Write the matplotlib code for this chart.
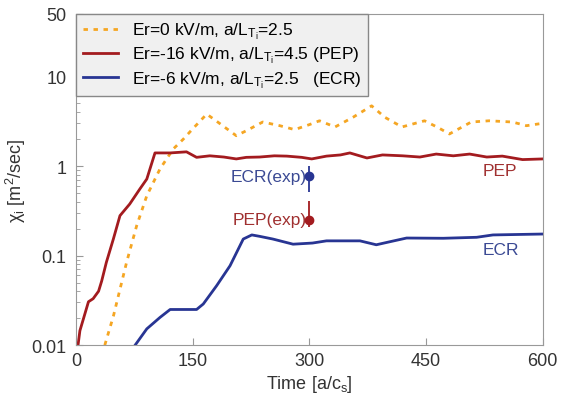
import matplotlib.pyplot as plt
import numpy as np

plt.rcParams['font.family'] = ['Liberation Sans', 'DejaVu Sans']
plt.rcParams['mathtext.fontset'] = 'custom'
plt.rcParams['mathtext.rm'] = 'Liberation Sans'
plt.rcParams['mathtext.it'] = 'Liberation Sans'

# Er=0 kV/m (dashed orange)
t_er0 = [37, 48, 56.5, 65, 78, 91, 108, 125, 138, 150, 168, 180, 189, 206, 219, 240, 262,
         281, 300, 313, 333, 356, 380, 397, 419, 448, 465, 480, 508, 531, 561, 579, 600]
chi_er0 = [0.01, 0.021, 0.042, 0.084, 0.216, 0.466, 0.93, 1.55, 2.0, 2.6, 3.8, 3.2, 2.8, 2.18,
           2.48, 3.1, 2.82, 2.55, 2.9, 3.2, 2.73, 3.5, 4.7, 3.5, 2.73, 3.2, 2.7, 2.28, 3.1, 3.2,
           3.1, 2.82, 3.0]

# PEP (red)
t_pep = [2.6, 5, 9.4, 16, 22, 29, 33, 39, 48, 56.5, 69, 82, 91, 101.5, 121, 142, 155, 172,
         190, 206, 219, 236, 255, 271, 290, 303, 322, 340, 352, 374, 394, 420, 442, 463, 485,
         506, 528, 548, 574, 600]
chi_pep = [0.01, 0.0145, 0.0195, 0.0305, 0.033, 0.04, 0.052, 0.084, 0.153, 0.279, 0.376,
           0.553, 0.716, 1.40, 1.40, 1.44, 1.25, 1.30, 1.26, 1.20, 1.25, 1.26, 1.30, 1.29, 1.25,
           1.2, 1.29, 1.33, 1.4, 1.23, 1.33, 1.30, 1.26, 1.36, 1.30, 1.36, 1.26, 1.29, 1.18, 1.2]

# ECR (blue)
t_ecr = [76, 91, 108, 121, 155, 163.6, 180.7, 198, 215, 226, 236, 253, 279, 304, 322, 365,
         386, 407, 425, 472, 515, 536, 600]
chi_ecr = [0.01, 0.0152, 0.0204, 0.025, 0.025, 0.0288, 0.046, 0.077, 0.153, 0.17, 0.164, 0.153,
           0.134, 0.138, 0.146, 0.146, 0.132, 0.145, 0.157, 0.156, 0.16, 0.17, 0.174]

# experimental points: value, lower, upper
exp_t = 300
ecr_exp = [0.77, 0.51, 1.0]
pep_exp = [0.25, 0.21, 0.41]

c_orange = '#f5a623'
c_red = '#a31b1f'
c_blue = '#283593'

fig = plt.figure(figsize=(5.61, 4.02), dpi=100)
ax = fig.add_axes([0.1355, 0.139, 0.832, 0.824])

ax.plot(t_er0, chi_er0, color=c_orange, lw=2, ls=(0, (1.6, 2.0)),
        label=r'Er=0 kV/m, a/L$_{\mathregular{T_i}}$=2.5')
ax.plot(t_pep, chi_pep, color=c_red, lw=2,
        label=r'Er=-16 kV/m, a/L$_{\mathregular{T_i}}$=4.5 (PEP)')
ax.plot(t_ecr, chi_ecr, color=c_blue, lw=2,
        label=r'Er=-6 kV/m, a/L$_{\mathregular{T_i}}$=2.5   (ECR)')

# experimental points with error bars
ax.errorbar([exp_t], [ecr_exp[0]], yerr=[[ecr_exp[0] - ecr_exp[1]], [ecr_exp[2] - ecr_exp[0]]],
            fmt='o', color=c_blue, ms=6, elinewidth=1.3, capsize=0)
ax.errorbar([exp_t], [pep_exp[0]], yerr=[[pep_exp[0] - pep_exp[1]], [pep_exp[2] - pep_exp[0]]],
            fmt='o', color=c_red, ms=6, elinewidth=1.3, capsize=0)
ax.text(exp_t - 4, ecr_exp[0], 'ECR(exp)', color='#3b4a94', fontsize=12.5, ha='right', va='center')
ax.text(exp_t - 4, pep_exp[0], 'PEP(exp)', color='#a03030', fontsize=12.5, ha='right', va='center')
ax.text(545, 0.88, 'PEP', color='#a03030', fontsize=12.5, ha='center', va='center')
ax.text(546, 0.118, 'ECR', color='#3b4a94', fontsize=12.5, ha='center', va='center')

ax.set_yscale('log')
ax.set_ylim(0.01, 50)
ax.set_xlim(0, 600)
ax.set_yticks([0.01, 0.1, 1, 10, 50])
ax.set_yticklabels(['0.01', '0.1', '1', '10', '50'])
ax.set_xticks([0, 150, 300, 450, 600])
ax.tick_params(axis='both', which='both', direction='in', labelsize=13, colors='#333333')
ax.tick_params(axis='both', which='major', length=5, color='#999999')
ax.tick_params(axis='y', which='minor', length=3, color='#999999')
ax.tick_params(axis='y', pad=7)
ax.tick_params(axis='x', pad=5)
for s in ax.spines.values():
    s.set_color('#999999')

ax.set_xlabel(r'Time [a/c$_\mathregular{s}$]', fontsize=13, color='#333333', labelpad=3)
ax.set_ylabel(r'$\mathregular{\chi_i}$ [m$^\mathregular{2}$/sec]', fontsize=13, color='#333333',
              labelpad=2)

leg = ax.legend(loc='upper left', fontsize=12.5, frameon=True, fancybox=False,
                handlelength=2.0, handletextpad=0.8, borderaxespad=0, labelspacing=0.2,
                borderpad=0.4)
leg.get_frame().set_facecolor('#f0f0f0')
leg.get_frame().set_edgecolor('#888888')
leg.get_frame().set_alpha(1)

fig.savefig('out.png', dpi=100)
